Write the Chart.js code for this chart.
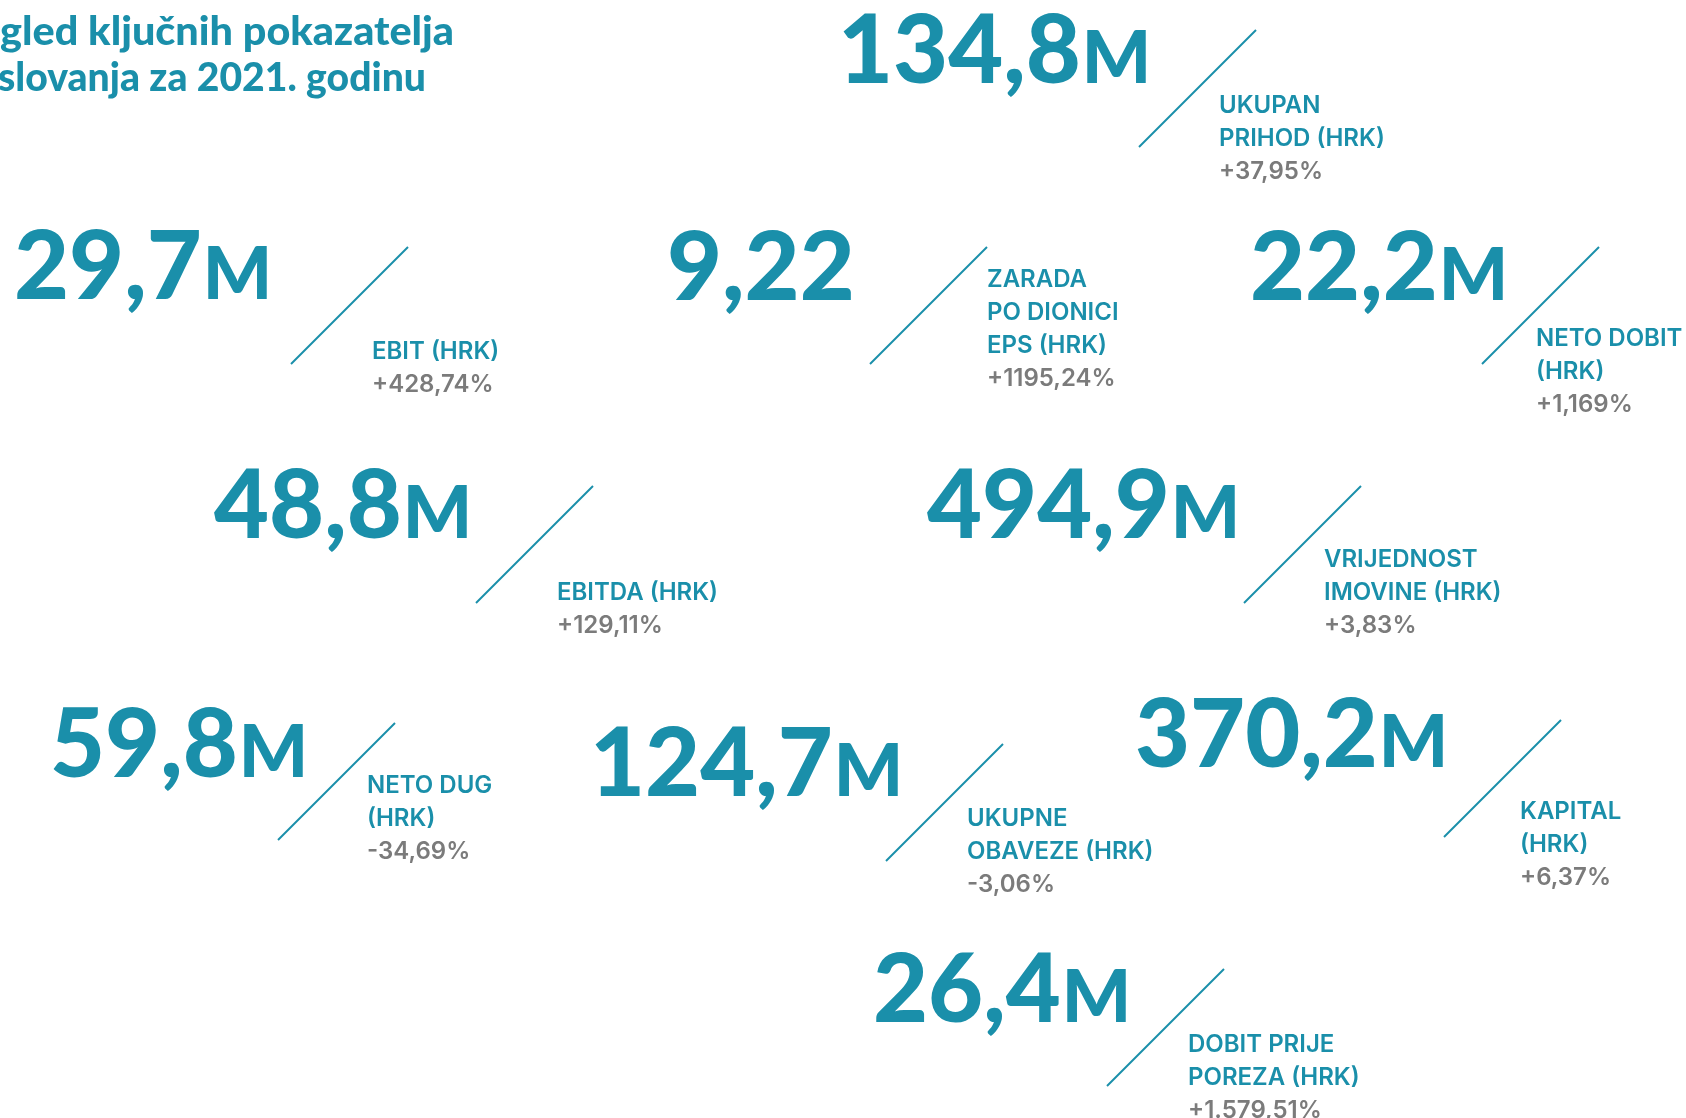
<!DOCTYPE html>
<html>
<head>
<meta charset="utf-8">
<script src="https://cdn.jsdelivr.net/npm/chart.js@4.4.0/dist/chart.umd.min.js"></script>
<style>
  html, body { margin: 0; padding: 0; background: #ffffff; }
  #wrap { width: 1686px; height: 1118px; position: relative; }
</style>
</head>
<body>
<div id="wrap"><canvas id="kpiChart"></canvas></div>
<script>
// Key figures for 2021 (values in HRK, M = millions)
const titleLines = ['gled ključnih pokazatelja', 'slovanja za 2021. godinu'];
const metricValues = [134.8, 29.7, 9.22, 22.2, 48.8, 494.9, 59.8, 124.7, 370.2, 26.4];
const metricUnits = ['M', 'M', '', 'M', 'M', 'M', 'M', 'M', 'M', 'M'];
const metricNames = [
    ['UKUPAN', 'PRIHOD (HRK)'],
    ['EBIT (HRK)'],
    ['ZARADA', 'PO DIONICI', 'EPS (HRK)'],
    ['NETO DOBIT', '(HRK)'],
    ['EBITDA (HRK)'],
    ['VRIJEDNOST', 'IMOVINE (HRK)'],
    ['NETO DUG', '(HRK)'],
    ['UKUPNE', 'OBAVEZE (HRK)'],
    ['KAPITAL', '(HRK)'],
    ['DOBIT PRIJE', 'POREZA (HRK)']
];
const metricChanges = ['+37,95%', '+428,74%', '+1195,24%', '+1,169%', '+129,11%', '+3,83%', '-34,69%', '-3,06%', '+6,37%', '+1.579,51%'];

// Layout of the infographic (scale units, page-sized)
const numberAnchors = [[838, 83], [14, 299], [667, 300], [1250, 300], [214, 538], [927, 538], [50, 777], [590, 796], [1135, 767], [873, 1022]];
const slashAnchors = [[1139, 147], [291, 364], [870, 364], [1482, 364], [476, 603], [1244, 603], [278, 840], [886, 861], [1444, 837], [1107, 1086]];
const labelAnchors = [[1219, 113], [372, 359], [987, 287], [1536, 346], [557, 600], [1324, 567], [367, 793], [967, 826], [1520, 819], [1188, 1052]];
const titleAnchors = [[0, 45, 454], [-2, 91, 428]];
const slashSize = 117;
const labelLineGap = 33;

const teal = '#1a8faa';
const grey = '#7b7b7b';

function formatValue(v) {
    return String(v).replace('.', ',');
}

const infographicPlugin = {
    id: 'infographic',
    afterDatasetsDraw(chart) {
        const ctx = chart.ctx;
        const xs = chart.scales.x;
        const ys = chart.scales.y;
        const meta = chart.getDatasetMeta(0);

        ctx.save();
        ctx.textBaseline = 'alphabetic';
        ctx.textAlign = 'left';

        // title (cut at the left edge like the source page)
        ctx.fillStyle = teal;
        ctx.font = '900 39px Lato';
        titleAnchors.forEach((p, i) => {
            const w = ctx.measureText(titleLines[i]).width;
            ctx.save();
            ctx.translate(xs.getPixelForValue(p[0]), ys.getPixelForValue(p[1]));
            ctx.scale(p[2] / w, 1);
            ctx.fillText(titleLines[i], 0, 0);
            ctx.restore();
        });

        meta.data.forEach((pt, i) => {
            const x = pt.x;
            const y = pt.y;

            // big number
            ctx.fillStyle = teal;
            ctx.font = '900 95px Lato';
            const txt = formatValue(metricValues[i]);
            ctx.fillText(txt, x, y);
            const tw = ctx.measureText(txt).width;
            if (metricUnits[i]) {
                ctx.font = '900 73px Lato';
                ctx.fillText(metricUnits[i], x + tw + 1, y);
            }

            // slash
            const sx0 = xs.getPixelForValue(slashAnchors[i][0]);
            const sy0 = ys.getPixelForValue(slashAnchors[i][1]);
            const sx1 = xs.getPixelForValue(slashAnchors[i][0] + slashSize);
            const sy1 = ys.getPixelForValue(slashAnchors[i][1] - slashSize);
            ctx.strokeStyle = teal;
            ctx.lineWidth = 2;
            ctx.beginPath();
            ctx.moveTo(sx0, sy0);
            ctx.lineTo(sx1, sy1);
            ctx.stroke();

            // label + change
            const lx = xs.getPixelForValue(labelAnchors[i][0]);
            let ly = ys.getPixelForValue(labelAnchors[i][1]);
            ctx.font = '600 24px Inter';
            ctx.fillStyle = teal;
            metricNames[i].forEach(line => {
                ctx.fillText(line, lx, ly);
                ly += labelLineGap;
            });
            ctx.fillStyle = grey;
            ctx.fillText(metricChanges[i], lx, ly);
        });
        ctx.restore();
    }
};

const ctx = document.getElementById('kpiChart').getContext('2d');
window.kpiChart = new Chart(ctx, {
    type: 'scatter',
    data: {
        datasets: [{
            label: 'Pokazatelji',
            data: numberAnchors.map(a => ({ x: a[0], y: a[1] })),
            pointRadius: 0,
            pointHoverRadius: 0
        }]
    },
    options: {
        responsive: true,
        maintainAspectRatio: false,
        animation: false,
        layout: { padding: 0 },
        plugins: {
            legend: { display: false },
            tooltip: { enabled: false }
        },
        scales: {
            x: { type: 'linear', min: 0, max: 1686, display: false },
            y: { type: 'linear', min: 0, max: 1118, reverse: true, display: false }
        }
    },
    plugins: [infographicPlugin]
});
</script>
</body>
</html>
